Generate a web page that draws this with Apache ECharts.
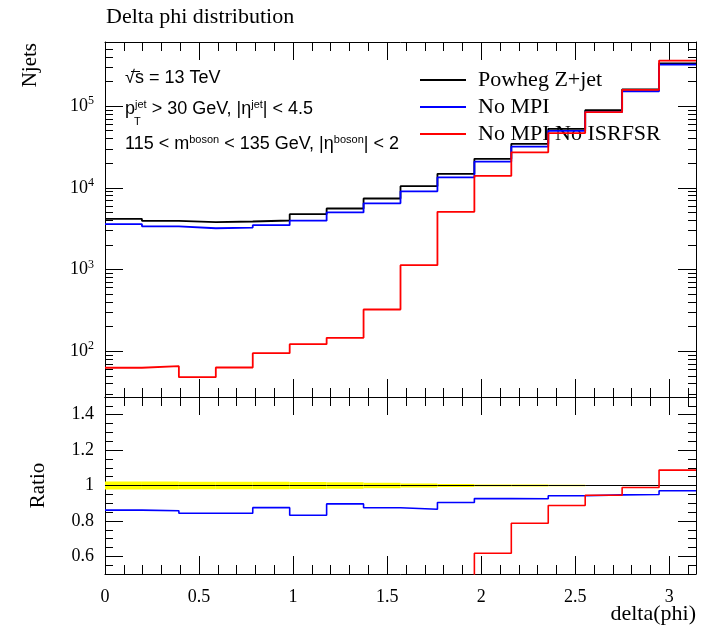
<!DOCTYPE html>
<html>
<head>
<meta charset="utf-8">
<script src="https://cdn.jsdelivr.net/npm/echarts@6/dist/echarts.min.js"></script>
<style>
html, body { margin: 0; padding: 0; background: #fff; }
#chart { width: 705px; height: 627px; }
</style>
</head>
<body>
<div id="chart"></div>
<script>
// delta(phi) bin edges, 16 bins from 0 to pi
var binEdges = [0, 0.19635, 0.39270, 0.58905, 0.78540, 0.98175, 1.17810, 1.37445, 1.57080,
  1.76715, 1.96350, 2.15984, 2.35619, 2.55254, 2.74889, 2.94524, 3.14159];
// Njets per bin
var powhegZjet = [4175, 3945, 3793, 3869, 3981, 4753, 5580, 7396, 10460, 14830, 22640, 34550, 52720, 89050, 159600, 332300];
var noMPI = [3595, 3381, 3197, 3262, 3483, 3954, 5000, 6464, 9058, 13406, 20965, 31959, 49662, 84330, 151460, 322330];
var noMPInoISRFSR = [62.7, 65.5, 48.1, 63.2, 94.5, 121.8, 145.9, 323.9, 1129, 5082, 13970, 27190, 46760, 84150, 157800, 361200];
// relative uncertainty of the reference (yellow band)
var refBand = [0.022, 0.022, 0.021, 0.021, 0.021, 0.020, 0.018, 0.015, 0.011, 0.009, 0.006, 0.005, 0.004, 0.003, 0.002, 0.002];
// axis ticks
var xMajorTicks = [0, 0.5, 1, 1.5, 2, 2.5, 3];
var xMinorTicks = [0.1, 0.2, 0.3, 0.4, 0.6, 0.7, 0.8, 0.9, 1.1, 1.2, 1.3, 1.4, 1.6, 1.7, 1.8, 1.9,
  2.1, 2.2, 2.3, 2.4, 2.6, 2.7, 2.8, 2.9, 3.1];
var logMajorTicks = [100, 1000, 10000, 100000];
var logMinorTicks = [30, 40, 50, 60, 70, 80, 90, 200, 300, 400, 500, 600, 700, 800, 900,
  2000, 3000, 4000, 5000, 6000, 7000, 8000, 9000, 20000, 30000, 40000, 50000, 60000, 70000, 80000, 90000,
  200000, 300000, 400000, 500000, 600000];
var ratioMajorTicks = [0.6, 0.8, 1, 1.2, 1.4];
var ratioMinorTicks = [0.55, 0.65, 0.7, 0.75, 0.85, 0.9, 0.95, 1.05, 1.1, 1.15, 1.25, 1.3, 1.35, 1.45];

var serif = 'Liberation Serif';
var sans = 'Liberation Sans';

// histogram as step line: one point per left edge + closing point at last edge
function steps(vals) {
  return binEdges.map(function (e, i) {
    return [e, vals[Math.min(i, vals.length - 1)]];
  });
}
function ratio(vals) {
  return vals.map(function (v, i) { return v / powhegZjet[i]; });
}
function histo(name, color, vals, width, xi, yi, z) {
  return {
    name: name, type: 'line', step: 'end', data: steps(vals),
    xAxisIndex: xi, yAxisIndex: yi, symbol: 'none', showSymbol: false,
    lineStyle: { color: color, width: width }, itemStyle: { color: color },
    z: z, silent: true, animation: false, clip: true
  };
}

var frame = { show: true, onZero: false, lineStyle: { color: '#000', width: 1 } };
var noLine = { show: false, onZero: false };

function xAx(grid, pos, major, labels) {
  return {
    type: 'value', gridIndex: grid, position: pos, min: 0, max: Math.PI,
    axisLine: major ? frame : noLine,
    axisTick: { show: true, inside: true, length: major ? 18 : 9,
      customValues: major ? xMajorTicks : xMinorTicks, lineStyle: { color: '#000', width: 1 } },
    axisLabel: labels ? {
      show: true, customValues: xMajorTicks, margin: 14, color: '#000',
      fontFamily: serif, fontSize: 18
    } : { show: false },
    splitLine: { show: false }
  };
}
function logAx(pos, major, labels) {
  return {
    type: 'log', logBase: 10, gridIndex: 0, position: pos, min: 27.5, max: 609000,
    axisLine: major ? frame : noLine,
    axisTick: { show: true, inside: true, length: major ? 18 : 8,
      customValues: major ? logMajorTicks : logMinorTicks, lineStyle: { color: '#000', width: 1 } },
    axisLabel: labels ? {
      show: true, customValues: logMajorTicks, margin: 11, color: '#000',
      formatter: function (v) {
        return '{b|10}{s|' + Math.round(Math.log10(v)) + '}';
      },
      rich: {
        b: { fontFamily: serif, fontSize: 18, color: '#000', lineHeight: 22 },
        s: { fontFamily: serif, fontSize: 12, color: '#000', verticalAlign: 'top', lineHeight: 16 }
      }
    } : { show: false },
    splitLine: { show: false }
  };
}
function ratioAx(pos, major, labels) {
  return {
    type: 'value', gridIndex: 1, position: pos, min: 0.5, max: 1.5,
    axisLine: major ? frame : noLine,
    axisTick: { show: true, inside: true, length: major ? 18 : 8,
      customValues: major ? ratioMajorTicks : ratioMinorTicks, lineStyle: { color: '#000', width: 1 } },
    axisLabel: labels ? {
      show: true, customValues: ratioMajorTicks, margin: 11, color: '#000',
      fontFamily: serif, fontSize: 18
    } : { show: false },
    name: labels ? 'Ratio' : '', nameLocation: 'middle', nameGap: 56,
    nameTextStyle: { fontFamily: serif, fontSize: 21, color: '#000' },
    splitLine: { show: false }
  };
}

var chart = echarts.init(document.getElementById('chart'), null, { renderer: 'canvas' });

var rich = {
  n: { fontFamily: sans, fontSize: 18, color: '#000', lineHeight: 20 },
  sp: { fontFamily: sans, fontSize: 11, color: '#000', verticalAlign: 'top', lineHeight: 11 }
};

chart.setOption({
  animation: false,
  backgroundColor: '#fff',
  grid: [
    { left: 105, right: 9, top: 42, height: 355, containLabel: false, outerBoundsMode: 'none' },
    { left: 105, right: 9, top: 397, height: 177, containLabel: false, outerBoundsMode: 'none' }
  ],
  xAxis: [
    xAx(0, 'bottom', true, false), xAx(0, 'bottom', false, false),
    xAx(0, 'top', true, false), xAx(0, 'top', false, false),
    xAx(1, 'bottom', true, true), xAx(1, 'bottom', false, false),
    xAx(1, 'top', true, false), xAx(1, 'top', false, false)
  ],
  yAxis: [
    logAx('left', true, true), logAx('left', false, false),
    logAx('right', true, false), logAx('right', false, false),
    ratioAx('left', true, true), ratioAx('left', false, false),
    ratioAx('right', true, false), ratioAx('right', false, false)
  ],
  legend: {
    orient: 'vertical', left: 420, top: 69, padding: 0, itemWidth: 46, itemHeight: 2, itemGap: 5,
    icon: 'rect', selectedMode: false,
    data: ['Powheg Z+jet', 'No MPI', 'No MPI No ISRFSR'],
    textStyle: { fontFamily: serif, fontSize: 22, color: '#000', lineHeight: 20, padding: [0, 0, 0, 7] }
  },
  graphic: [
    { type: 'text', left: 106, top: 6,
      style: { text: 'Delta phi distribution', fontFamily: serif, fontSize: 22, fill: '#000' } },
    { type: 'text', x: 30, y: 43, rotation: Math.PI / 2,
      style: { text: 'Njets', fontFamily: serif, fontSize: 21, fill: '#000', align: 'right', verticalAlign: 'middle' } },
    { type: 'text', right: 9, top: 603,
      style: { text: 'delta(phi)', fontFamily: serif, fontSize: 22, fill: '#000' } },
    { type: 'text', left: 125, top: 69,
      style: { text: '{n|√s = 13 TeV}', rich: rich } },
    { type: 'line', shape: { x1: 131, y1: 71.5, x2: 140, y2: 71.5 }, style: { stroke: '#000', lineWidth: 1 } },
    { type: 'text', left: 125, top: 99,
      style: { text: '{n|p}{sp|jet}{n| > 30 GeV, |η}{sp|jet}{n|| < 4.5}', rich: rich } },
    { type: 'text', left: 134, top: 116,
      style: { text: 'T', fontFamily: sans, fontSize: 11, fill: '#000' } },
    { type: 'text', left: 125, top: 134,
      style: { text: '{n|115 < m}{sp|boson}{n| < 135 GeV, |η}{sp|boson}{n|| < 2}', rich: rich } }
  ],
  series: [
    histo('Powheg Z+jet', '#000000', powhegZjet, 1.8, 0, 0, 3),
    histo('No MPI', '#0000ff', noMPI, 1.8, 0, 0, 4),
    histo('No MPI No ISRFSR', '#ff0000', noMPInoISRFSR, 1.8, 0, 0, 5),
    {
      type: 'custom', xAxisIndex: 4, yAxisIndex: 4, z: 1, silent: true, clip: true,
      data: refBand.map(function (u, i) { return [binEdges[i], binEdges[i + 1], u]; }),
      encode: { x: [0, 1], y: 2 },
      renderItem: function (params, api) {
        var p0 = api.coord([api.value(0), 1 + api.value(2)]);
        var p1 = api.coord([api.value(1), 1 - api.value(2)]);
        return {
          type: 'rect',
          shape: { x: p0[0], y: p0[1], width: p1[0] - p0[0], height: p1[1] - p0[1] },
          style: { fill: '#ffff00' }
        };
      }
    },
    histo('Powheg Z+jet', '#000000', ratio(powhegZjet), 1, 4, 4, 3),
    histo('No MPI', '#0000ff', ratio(noMPI), 1.6, 4, 4, 4),
    histo('No MPI No ISRFSR', '#ff0000', ratio(noMPInoISRFSR), 1.6, 4, 4, 5)
  ]
});
</script>
</body>
</html>
